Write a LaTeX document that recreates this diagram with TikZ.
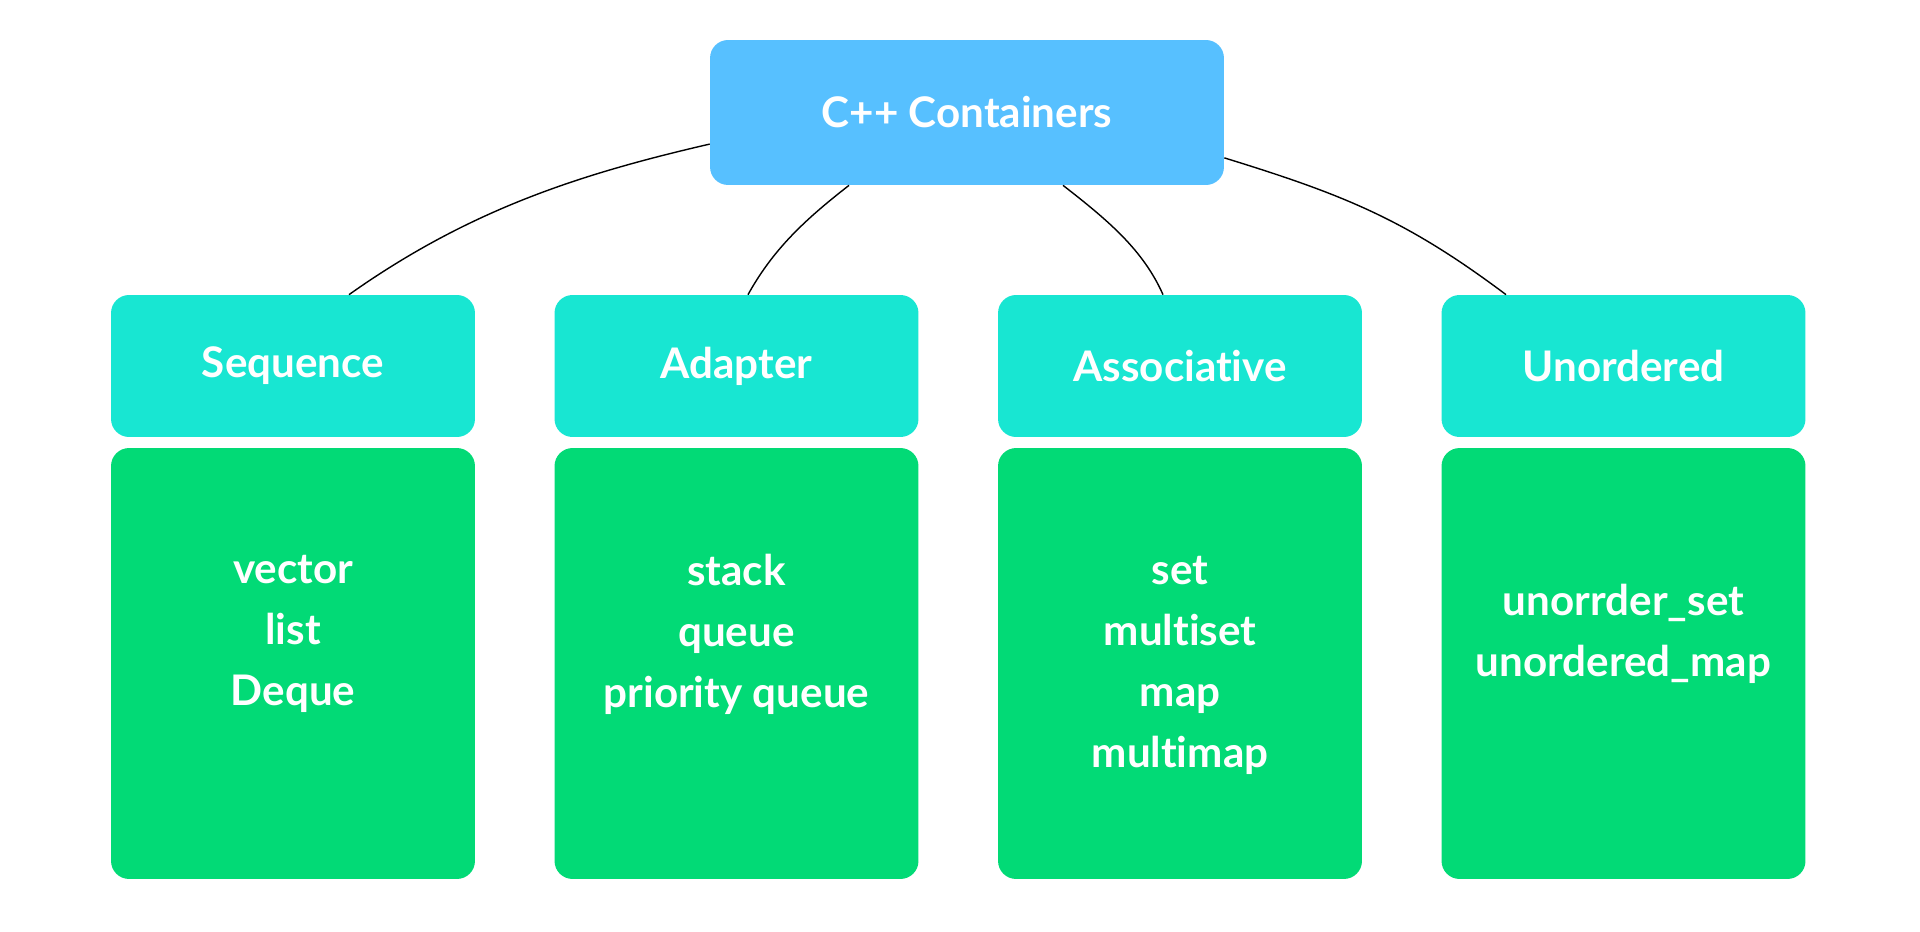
\documentclass[tikz,border=0pt]{standalone}
\usepackage{fontspec}
\setmainfont[Ligatures=NoCommon]{Lato}
\definecolor{rootblue}{RGB}{87,192,255}
\definecolor{kindteal}{RGB}{24,230,210}
\definecolor{listgreen}{RGB}{2,218,118}
\begin{document}
\begin{tikzpicture}[x=0.02cm,y=-0.02cm,
    box/.style={rectangle,rounded corners=0.36cm,inner sep=0pt,text=white,
      font=\fontsize{24}{34.7}\selectfont\bfseries},
    rootbox/.style={box,fill=rootblue,minimum width=10.28cm,minimum height=2.9cm},
    kindbox/.style={box,fill=kindteal,minimum width=7.28cm,minimum height=2.84cm},
    listbox/.style={box,fill=listgreen,minimum width=7.28cm,minimum height=8.62cm},
    listtxt/.style={align=center,inner sep=0pt,text=white,
      font=\fontsize{24}{34.7}\selectfont\bfseries},
    link/.style={black,line width=0.8pt}]
  \useasboundingbox (0,0) rectangle (1920,932);
  \node[rootbox] (root) at (967,112.5) {C++ Containers};
  \node[kindbox] (seq) at (293,366) {Sequence};
  \node[kindbox] (adp) at (736.5,366) {Adapter};
  \node[kindbox] (asc) at (1180,366) {Associative};
  \node[kindbox] (uno) at (1623.5,366) {Unordered};
  \node[listbox] (seqbox) at (293,663.5) {};
  \node[listbox] (adpbox) at (736.5,663.5) {};
  \node[listbox] (ascbox) at (1180,663.5) {};
  \node[listbox] (unobox) at (1623.5,663.5) {};
  \node[listtxt] (seqlist) at (293,634) {vector\\list\\Deque};
  \node[listtxt] (adplist) at (736.5,634) {stack\\queue\\priority queue};
  \node[listtxt] (asclist) at (1180,665) {set\\multiset\\map\\multimap};
  \node[listtxt] (unolist) at (1623.5,634) {unorrder\_set\\unordered\_map};
  \draw[link] (root.187) .. controls +(-130,30) and +(120,-85) .. ([xshift=1.12cm]seq.north);
  \draw[link] ([xshift=-2.36cm]root.south) .. controls +(-45,35) and +(25,-45) .. ([xshift=0.23cm]adp.north);
  \draw[link] ([xshift=1.92cm]root.south) .. controls +(45,35) and +(-20,-45) .. ([xshift=-0.34cm]asc.north);
  \draw[link] (root.350) .. controls +(120,37) and +(-100,-75) .. ([xshift=-2.35cm]uno.north);
\end{tikzpicture}
\end{document}
